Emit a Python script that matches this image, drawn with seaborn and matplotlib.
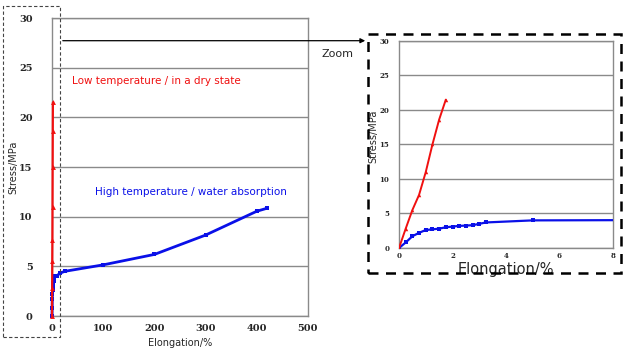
import matplotlib
matplotlib.use("Agg")
import matplotlib.pyplot as plt
import matplotlib.patches as patches
import seaborn as sns

# -------------------- data --------------------
low_x = [0, 0.25, 0.5, 0.75, 1.0, 1.25, 1.5, 1.75]
low_y = [0, 2.8, 5.5, 7.7, 11.0, 15.0, 18.6, 21.5]

high_x = [0, 0.25, 0.5, 0.75, 1.0, 1.25, 1.5, 1.75, 2.0, 2.25, 2.5, 2.75,
          3.0, 3.25, 5.0, 10, 15, 25, 100, 200, 300, 400, 420]
high_y = [0, 0.8, 1.7, 2.2, 2.6, 2.7, 2.8, 3.0, 3.1, 3.2, 3.25, 3.3,
          3.5, 3.7, 4.0, 4.05, 4.3, 4.5, 5.15, 6.2, 8.15, 10.55, 10.85]

main_xticks = [0, 100, 200, 300, 400, 500]
zoom_xticks = [0, 2, 4, 6, 8]
yticks = [0, 5, 10, 15, 20, 25, 30]

RED = "#f01010"
BLUE = "#0a10e8"
GRID = "#8a8a8a"
# ----------------------------------------------

sns.set_style("white")
plt.rcParams["font.family"] = ["DejaVu Sans"]

fig = plt.figure(figsize=(6.25, 3.53), dpi=100)


def style_axes(ax, xlim, xticks, tick_size, xpad, ypad):
    ax.set_xlim(*xlim)
    ax.set_ylim(0, 30)
    ax.set_xticks(xticks)
    ax.set_yticks(yticks)
    ax.yaxis.grid(True, color=GRID, lw=1.0)
    ax.xaxis.grid(False)
    ax.set_axisbelow(True)
    for s in ax.spines.values():
        s.set_color(GRID)
        s.set_linewidth(1.0)
        s.set_zorder(0.5)
    ax.tick_params(axis="both", length=2, direction="in", color=GRID,
                   labelsize=tick_size)
    ax.tick_params(axis="x", pad=xpad)
    ax.tick_params(axis="y", pad=ypad)
    for lbl in ax.get_xticklabels() + ax.get_yticklabels():
        lbl.set_family("DejaVu Serif")
        lbl.set_weight("bold")


# ---------- main chart ----------
ax = fig.add_axes([0.0832, 0.1048, 0.4096, 0.844])
sns.lineplot(x=high_x, y=high_y, ax=ax, color=BLUE, lw=2.0, marker="s",
             markersize=3, markeredgewidth=0, sort=False, clip_on=False,
             zorder=3)
sns.lineplot(x=low_x, y=low_y, ax=ax, color=RED, lw=1.6, marker="^",
             markersize=3.5, markeredgewidth=0, sort=False, clip_on=False,
             zorder=4)
style_axes(ax, (0, 500), main_xticks, 7, xpad=6, ypad=14)
ax.set_xlabel("Elongation/%", fontsize=7)
ax.set_ylabel("Stress/MPa", fontsize=7)
ax.xaxis.set_label_coords(0.5, -0.075)
ax.yaxis.set_label_coords(-0.13, 0.5)
ax.text(0.078, 0.79, "Low temperature / in a dry state", color=RED,
        fontsize=7.5, transform=ax.transAxes, va="center")
ax.text(0.168, 0.417, "High temperature / water absorption", color=BLUE,
        fontsize=7.5, transform=ax.transAxes, va="center")

# ---------- zoomed chart ----------
axz = fig.add_axes([0.6384, 0.2975, 0.3424, 0.5864])
sns.lineplot(x=high_x, y=high_y, ax=axz, color=BLUE, lw=1.6, marker="s",
             markersize=2.5, markeredgewidth=0, sort=False)
sns.lineplot(x=low_x, y=low_y, ax=axz, color=RED, lw=1.4, marker="^",
             markersize=2.5, markeredgewidth=0, sort=False)
style_axes(axz, (0, 8), zoom_xticks, 5, xpad=3, ypad=7)
axz.set_xlabel("Elongation/%", fontsize=10.5)
axz.set_ylabel("Stress/MPa", fontsize=7)
axz.xaxis.set_label_coords(0.5, -0.068)
axz.yaxis.set_label_coords(-0.098, 0.54)

# ---------- dashed frames + arrow ----------
fig.patches.append(patches.Rectangle(
    (0.0048, 0.0453), 0.0912, 0.9377, transform=fig.transFigure,
    fill=False, ec="#444444", lw=0.8, ls=(0, (3, 2))))
fig.patches.append(patches.Rectangle(
    (0.5888, 0.2266), 0.4048, 0.677, transform=fig.transFigure,
    fill=False, ec="black", lw=1.8, ls=(0, (4, 3))))
fig.add_artist(matplotlib.patches.FancyArrowPatch(
    (0.096, 0.8847), (0.5888, 0.8847), transform=fig.transFigure,
    arrowstyle="-|>", mutation_scale=7, color="black", lw=0.9))
fig.text(0.515, 0.848, "Zoom", fontsize=8, va="center")

fig.savefig("out.png", dpi=100)
